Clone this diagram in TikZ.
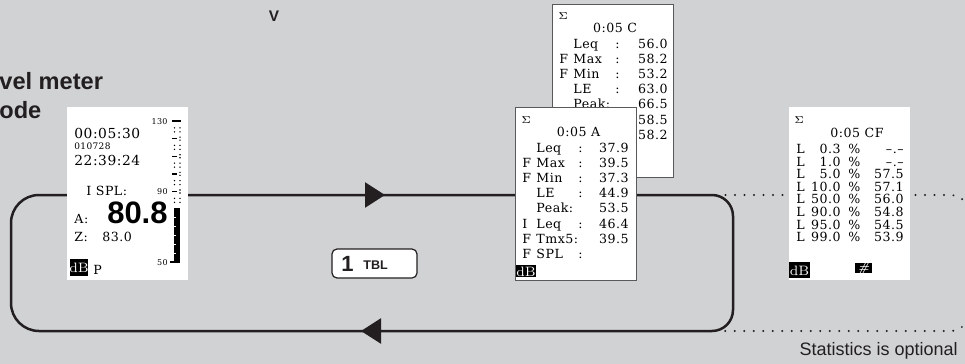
\documentclass[tikz,border=0pt]{standalone}
\usepackage{fontspec}
\usetikzlibrary{arrows.meta}

\newfontfamily\lcdfont[LetterSpace=4]{DejaVu Serif}
\newfontfamily\sansfont{Liberation Sans}

\definecolor{bggray}{HTML}{D1D2D4}
\definecolor{ink}{HTML}{231F20}
\definecolor{framegray}{HTML}{58595B}

\tikzset{
    lcd/.style = {font=\lcdfont\fontsize{6.3}{8}\selectfont, inner sep=0pt},
    lcdtiny/.style = {font=\lcdfont\fontsize{4}{5}\selectfont, inner sep=0pt},
    sans/.style = {inner sep=0pt, text=ink},
    screen/.style = {fill=white, inner sep=0pt, minimum width=60.5pt, minimum height=86.5pt},
    framed/.style = {screen, draw=framegray, line width=0.5pt},
    invtext/.style = {text=white, inner sep=0pt, font=\fontsize{6.8}{8}\selectfont},
    loopline/.style = {draw=ink, line width=1.25pt},
    statline/.style = {draw=ink, line width=1.1pt, dash pattern=on 0pt off 4.75pt, line cap=round},
    loophead/.style = {loopline, -{Triangle[length=10pt, width=12.5pt]}}
}

\begin{document}
\begin{tikzpicture}[x=0.5pt, y=-0.5pt]
        \useasboundingbox (0,0) rectangle (965,364);
        \fill[bggray] (0,0) rectangle (965,364);

        % headings
        \node[sans, anchor=base west, font=\sansfont\bfseries\fontsize{11.8}{14}\selectfont] (mode1) at (-1,90) {vel meter};
        \node[sans, anchor=base west, font=\sansfont\bfseries\fontsize{11.8}{14}\selectfont] (mode2) at (-1,118) {ode};
        \node[sans, anchor=base, font=\sansfont\bfseries\fontsize{7.7}{9}\selectfont] (vmark) at (274,21) {V};

        % optional statistics loop
        \coordinate (s1) at (716,195);
        \coordinate (s2) at (970,195);
        \coordinate (s3) at (970,331);
        \coordinate (s4) at (716,331);
        \draw[statline, rounded corners=10pt] (s1) -- (s2) -- (s3) -- (s4);

        % main loop
        \coordinate (ltop) at (400,195);
        \coordinate (lbot) at (400,331);
        \coordinate (c1) at (11,195);
        \coordinate (c2) at (11,331);
        \coordinate (c3) at (733,331);
        \coordinate (c4) at (733,195);
        \draw[loopline] (ltop) [rounded corners=14pt] -- (c1) -- (c2) -- (lbot) [rounded corners=10.5pt] -- (c3) -- (c4) -- cycle;

        \coordinate (a1) at (350,195);
        \coordinate (a2) at (385,195);
        \coordinate (a3) at (398,331);
        \coordinate (a4) at (361,331);
        \draw[loophead] (a1) -- (a2);
        \draw[loophead] (a3) -- (a4);

        % TBL key
        \node[fill=white, draw=ink, line width=0.6pt, rounded corners=2.5pt, minimum width=42.5pt, minimum height=14.5pt] (tbl) at (374.5,263.5) {};
        \node[sans, anchor=base west, font=\sansfont\bfseries\fontsize{11}{12}\selectfont] (tblnum) at (341,271) {1};
        \node[sans, anchor=base west, font=\sansfont\bfseries\fontsize{6.3}{7}\selectfont] (tbltext) at (363,269.5) {TBL};

        % level meter screen
        \node[screen] (meter) at (127.5,193.5) {};
        \node[lcd, anchor=base west, font=\lcdfont\fontsize{6.9}{8}\selectfont] (time) at (74,138) {00:05:30};
        \node[lcd, anchor=base west, font=\lcdfont\fontsize{4.5}{6}\selectfont] (date) at (74,149) {010728};
        \node[lcd, anchor=base west, font=\lcdfont\fontsize{6.9}{8}\selectfont] (clock) at (74,165.5) {22:39:24};
        \node[lcd, anchor=base west] (ispl) at (86,195) {I SPL:};
        \node[lcd, anchor=base west] (wa) at (74,223) {A:};
        \node[anchor=base east, inner sep=0pt, font=\sansfont\bfseries\fontsize{15.5}{16}\selectfont] (spl) at (168,223) {80.8};
        \node[lcd, anchor=base west] (wz) at (74,241) {Z:};
        \node[lcd, anchor=base west] (zval) at (102,241) {83.0};
        \fill (70,259) rectangle (88,276);
        \node[invtext] (mdb) at (79,268) {dB};
        \node[lcd, anchor=base west] (mp) at (93,274) {P};
        \node[lcdtiny, anchor=base east] (s130) at (168,124) {130};
        \node[lcdtiny, anchor=base east] (s90) at (168,194) {90};
        \node[lcdtiny, anchor=base east] (s50) at (168,265) {50};
        \draw[line width=0.8pt] (172,121) -- (181,121);
        \foreach \d in {125,115,105,95,85} {
            \pgfmathsetmacro\yy{121+(130-\d)*1.7625}
            \foreach \xx in {174.5,180} {
                \fill (\xx,\yy-2) circle (0.4pt);
                \fill (\xx,\yy+2) circle (0.4pt);
            }
        }
        \foreach \d in {120,110,100,90} {
            \pgfmathsetmacro\yy{121+(130-\d)*1.7625}
            \draw[line width=0.7pt] (172,\yy) -- (176.5,\yy);
            \fill (180,\yy-1.5) circle (0.4pt);
            \fill (180,\yy+1.5) circle (0.4pt);
        }
        \fill (174,208) rectangle (180,262);
        \draw[line width=0.8pt] (170,262) -- (180,262);
        \foreach \d in {75,70,65,60,55} {
            \pgfmathsetmacro\yy{121+(130-\d)*1.7625}
            \draw[white, line width=0.5pt] (174,\yy) -- (175.8,\yy);
        }

        % C-weighted screen (behind)
        \node[framed] (cardC) at (612.5,90.5) {};
        \node[lcdtiny, anchor=base west, font=\fontsize{4}{4}\selectfont] (sigC) at (558,19) {$\Sigma$};
        \node[lcd, anchor=base] (headC) at (615,32.5) {0:05 C};
        \foreach \p/\l/\c/\v [count=\i] in {/Leq/:/56.0, F/Max/:/58.2, F/Min/:/53.2, /LE/:/63.0, /Peak://66.5} {
            \pgfmathsetmacro\yy{48+15.2*(\i-1)}
            \node[lcd, anchor=base west] (cP\i) at (559,\yy) {\p};
            \node[lcd, anchor=base west] (cL\i) at (573,\yy) {\l};
            \node[lcd, anchor=base west] (cC\i) at (615,\yy) {\c};
            \node[lcd, anchor=base east] (cV\i) at (668,\yy) {\v};
        }
        \node[lcd, anchor=base east] (cV6) at (668,124) {58.5};
        \node[lcd, anchor=base east] (cV7) at (668,139.2) {58.2};

        % A-weighted screen
        \node[framed] (cardA) at (575.5,193.5) {};
        \node[lcdtiny, anchor=base west, font=\fontsize{4}{4}\selectfont] (sigA) at (521,123) {$\Sigma$};
        \node[lcd, anchor=base] (headA) at (578.5,136.5) {0:05 A};
        \foreach \p/\l/\c/\v [count=\i] in {/Leq/:/37.9, F/Max/:/39.5, F/Min/:/37.3, /LE/:/44.9, /Peak://53.5, I/Leq/:/46.4, F/Tmx5://39.5, F/SPL/:/} {
            \pgfmathsetmacro\yy{152+15.2*(\i-1)}
            \node[lcd, anchor=base west] (aP\i) at (522,\yy) {\p};
            \node[lcd, anchor=base west] (aL\i) at (536,\yy) {\l};
            \node[lcd, anchor=base west] (aC\i) at (578,\yy) {\c};
            \node[lcd, anchor=base east] (aV\i) at (629,\yy) {\v};
        }
        \fill (516,265) rectangle (536,277);
        \node[invtext] (adb) at (526,271.5) {dB};

        % statistics screen
        \node[screen] (cardCF) at (849.5,193.5) {};
        \node[lcdtiny, anchor=base west, font=\fontsize{4}{4}\selectfont] (sigCF) at (794,123) {$\Sigma$};
        \node[lcd, anchor=base] (headCF) at (857,137.5) {0:05 CF};
        \foreach \n/\v [count=\i] in {0.3/–.–, 1.0/–.–, 5.0/57.5, 10.0/57.1, 50.0/56.0, 90.0/54.8, 95.0/54.5, 99.0/53.9} {
            \pgfmathsetmacro\yy{153.5+12.6*(\i-1)}
            \node[lcd, anchor=base west] (fL\i) at (796,\yy) {L};
            \node[lcd, anchor=base east] (fN\i) at (841,\yy) {\n};
            \node[lcd, anchor=base west] (fC\i) at (848,\yy) {\%};
            \node[lcd, anchor=base east] (fV\i) at (904,\yy) {\v};
        }
        \fill (789,262) rectangle (810,278);
        \node[invtext] (fdb) at (799.5,270.5) {dB};
        \fill (855,263) rectangle (872,273);
        \node[invtext, font=\bfseries\itshape\fontsize{6}{6}\selectfont] (fhash) at (863.5,268) {\#};

        \node[sans, anchor=base east, font=\sansfont\fontsize{9}{11}\selectfont] (optnote) at (958,355) {Statistics is optional};
\end{tikzpicture}
\end{document}
